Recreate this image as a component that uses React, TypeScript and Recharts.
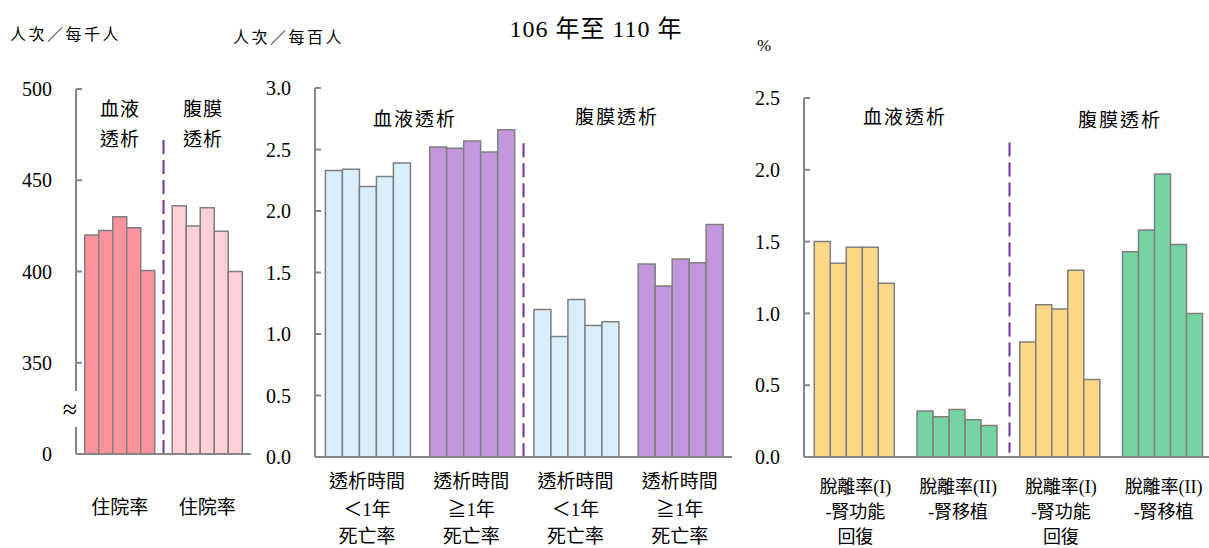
import React from "react"
import { BarChart, Bar, XAxis, YAxis, Cell, ReferenceLine } from "recharts"

const FONT = '"Liberation Serif", "Noto Sans CJK TC", serif'
const AXIS = "#868686"
const EDGE = "#7F7F7F"
const DIVIDER = "#7030A0"

const years = ["106", "107", "108", "109", "110"]

// 住院率 (人次／每千人)
const admitCats = ["住院率|血液", "住院率|腹膜"]
const hdAdmit = [420, 422.5, 430, 424, 400.5]
const pdAdmit = [436, 425, 435, 422, 400]
const admitTicks = [300, 350, 400, 450, 500]

// 死亡率 (人次／每百人)
const mortCats = ["透析時間|＜1年|死亡率", "透析時間|≧1年|死亡率", "透析時間|＜1年|死亡率 ", "透析時間|≧1年|死亡率 "]
const hdMortLt1 = [2.33, 2.34, 2.2, 2.28, 2.39]
const hdMortGe1 = [2.52, 2.51, 2.57, 2.48, 2.66]
const pdMortLt1 = [1.2, 0.98, 1.28, 1.07, 1.1]
const pdMortGe1 = [1.57, 1.39, 1.61, 1.58, 1.89]
const mortTicks = [0, 0.5, 1, 1.5, 2, 2.5, 3]

// 脫離率 (%)
const exitCats = ["脫離率(I)|-腎功能|回復", "脫離率(II)|-腎移植", "脫離率(I)|-腎功能|回復 ", "脫離率(II)|-腎移植 "]
const hdRecovery = [1.5, 1.35, 1.46, 1.46, 1.21]
const hdTransplant = [0.32, 0.28, 0.33, 0.26, 0.22]
const pdRecovery = [0.8, 1.06, 1.03, 1.3, 0.54]
const pdTransplant = [1.43, 1.58, 1.97, 1.48, 1.0]
const exitTicks = [0, 0.5, 1, 1.5, 2, 2.5]

function buildRows(cats: string[], series: number[][]) {
  return cats.map((cat, i) => {
    const row: Record<string, string | number> = { cat }
    years.forEach((y, j) => {
      row["y" + y] = series[i][j]
    })
    return row
  })
}

function MultiTick(props: any) {
  const { x, y, payload, lineY, hideSecond, size } = props
  let lines = String(payload.value).trim().split("|")
  if (hideSecond) lines = [lines[0]]
  return (
    <text x={x} textAnchor="middle" fontFamily={FONT} fontSize={size} fill="#000">
      {lines.map((l: string, i: number) => (
        <tspan key={i} x={x} y={y + lineY[i]}>
          {l}
        </tspan>
      ))}
    </text>
  )
}

interface PanelProps {
  left: number
  width: number
  yAxisWidth: number
  margin: { top: number; right: number; bottom: number; left: number }
  rows: Record<string, string | number>[]
  colors: string[]
  domain: [number, number]
  ticks: number[]
  format: (v: number) => string
  divider: number
  dividerRange: [number, number]
  lineY: number[]
  labelSize: number
  hideSecond?: boolean
}

function Panel(p: PanelProps) {
  const cut = p.rows[p.divider].cat
  return (
    <div style={{ position: "absolute", left: p.left, top: 0 }}>
      <BarChart
        width={p.width}
        height={548}
        data={p.rows}
        margin={p.margin}
        barCategoryGap="10%"
        barGap={0}
        style={{ overflow: "visible" }}
      >
        <XAxis
          dataKey="cat"
          axisLine={{ stroke: AXIS, strokeWidth: 2 }}
          tickLine={false}
          tickSize={0}
          tickMargin={0}
          interval={0}
          tick={<MultiTick lineY={p.lineY} hideSecond={p.hideSecond} size={p.labelSize} />}
        />
        <YAxis
          width={p.yAxisWidth}
          domain={p.domain}
          ticks={p.ticks}
          interval={0}
          allowDataOverflow
          tickFormatter={p.format}
          axisLine={{ stroke: AXIS, strokeWidth: 2 }}
          tickLine={{ stroke: AXIS, strokeWidth: 2 }}
          tickSize={-6}
          tickMargin={30}
          tick={{ fill: "#000", fontSize: 20, fontFamily: FONT }}
        />
        {years.map((y) => (
          <Bar
            key={y}
            dataKey={"y" + y}
            stroke={EDGE}
            strokeWidth={1.5}
            isAnimationActive={false}
          >
            {p.rows.map((_, i) => (
              <Cell key={i} fill={p.colors[i]} />
            ))}
          </Bar>
        ))}
        <ReferenceLine
          segment={[
            { x: cut, y: p.dividerRange[0] },
            { x: cut, y: p.dividerRange[1] },
          ]}
          position="start"
          stroke={DIVIDER}
          strokeWidth={2}
          strokeDasharray="14 6"
          ifOverflow="visible"
        />
      </BarChart>
    </div>
  )
}

const textStyle: React.CSSProperties = {
  position: "absolute",
  fontFamily: FONT,
  color: "#000",
  whiteSpace: "nowrap",
}

function Label({ x, y, size, children, center = true, spacing = 0 }: any) {
  return (
    <div
      style={{
        ...textStyle,
        left: x,
        top: y - size * 0.65,
        fontSize: size,
        lineHeight: size * 1.3 + "px",
        letterSpacing: spacing,
        transform: center ? "translateX(-50%)" : undefined,
      }}
    >
      {children}
    </div>
  )
}

export default function App() {
  const admitRows = buildRows(admitCats, [hdAdmit, pdAdmit])
  const mortRows = buildRows(mortCats, [hdMortLt1, hdMortGe1, pdMortLt1, pdMortGe1])
  const exitRows = buildRows(exitCats, [hdRecovery, hdTransplant, pdRecovery, pdTransplant])

  return (
    <div
      style={{
        position: "absolute",
        left: 0,
        top: 0,
        width: 1209,
        height: 548,
        overflow: "hidden",
        background: "#fff",
      }}
    >
      <Panel
        left={0}
        width={260}
        yAxisWidth={76}
        margin={{ top: 89, right: 9, bottom: 64, left: 0 }}
        rows={admitRows}
        colors={["#FF929F", "#FFD0D8"]}
        domain={[300, 500]}
        ticks={admitTicks}
        format={(v) => (v === 300 ? "0" : String(v))}
        divider={1}
        dividerRange={[472, 300]}
        lineY={[60]}
        labelSize={19}
        hideSecond
      />
      <Panel
        left={250}
        width={490}
        yAxisWidth={65}
        margin={{ top: 88, right: 8, bottom: 61, left: 0 }}
        rows={mortRows}
        colors={["#DAEEFC", "#C397DE", "#DAEEFC", "#C397DE"]}
        domain={[0, 3]}
        ticks={mortTicks}
        format={(v) => v.toFixed(1)}
        divider={2}
        dividerRange={[2.55, 0]}
        lineY={[31, 59, 86]}
        labelSize={19}
      />
      <Panel
        left={740}
        width={475}
        yAxisWidth={64}
        margin={{ top: 98, right: 0, bottom: 61, left: 0 }}
        rows={exitRows}
        colors={["#FFD788", "#76D4A2", "#FFD788", "#76D4A2"]}
        domain={[0, 2.5]}
        ticks={exitTicks}
        format={(v) => v.toFixed(1)}
        divider={2}
        dividerRange={[2.19, 0.03]}
        lineY={[36, 61, 86]}
        labelSize={18}
      />

      {/* axis break on the first panel */}
      <div style={{ position: "absolute", left: 72, top: 391, width: 9, height: 36, background: "#fff" }} />
      <Label x={70} y={410} size={26}>≈</Label>

      <Label x={596} y={30} size={24} spacing={1}>106 年至 110 年</Label>
      <Label x={10} y={35} size={16} center={false} spacing={2.5}>人次／每千人</Label>
      <Label x={233} y={38} size={16} center={false} spacing={2.5}>人次／每百人</Label>
      <Label x={757} y={46} size={17} center={false}>%</Label>

      <Label x={120} y={110} size={19} spacing={1}>血液</Label>
      <Label x={120} y={140} size={19} spacing={1}>透析</Label>
      <Label x={203} y={110} size={19} spacing={1}>腹膜</Label>
      <Label x={203} y={140} size={19} spacing={1}>透析</Label>

      <Label x={415} y={120} size={19} spacing={2}>血液透析</Label>
      <Label x={617} y={118} size={19} spacing={2}>腹膜透析</Label>
      <Label x={905} y={118} size={19} spacing={2}>血液透析</Label>
      <Label x={1120} y={121} size={19} spacing={2}>腹膜透析</Label>
    </div>
  )
}
